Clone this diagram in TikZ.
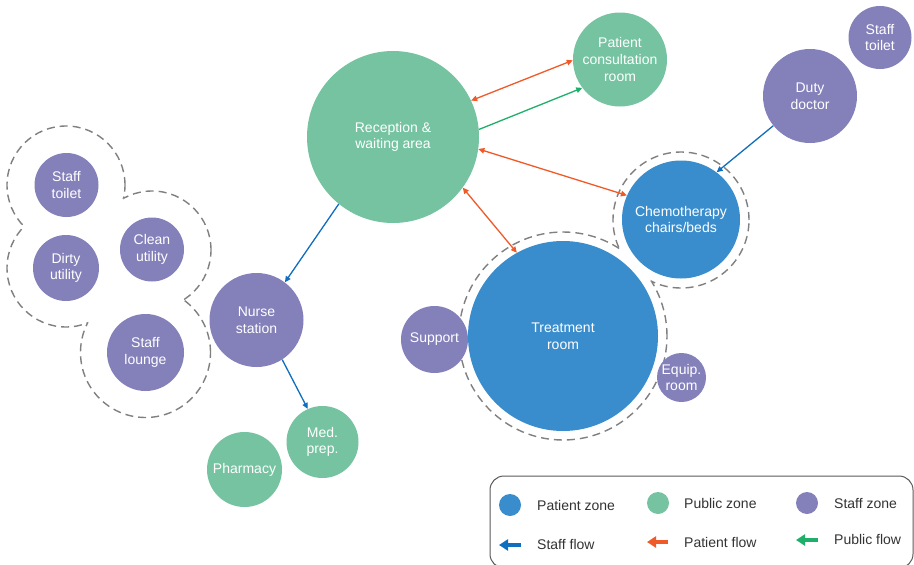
\documentclass[tikz,border=0pt]{standalone}
\usepackage{fontspec}
\setmainfont{Liberation Sans}
\usetikzlibrary{arrows.meta}
\definecolor{patient}{RGB}{58,141,204}
\definecolor{public}{RGB}{117,195,160}
\definecolor{staff}{RGB}{132,128,186}
\definecolor{staffflow}{RGB}{16,110,190}
\definecolor{patientflow}{RGB}{240,90,40}
\definecolor{publicflow}{RGB}{30,175,105}
\definecolor{ringgray}{RGB}{128,128,128}
\definecolor{legtext}{RGB}{51,51,51}
\definecolor{legframe}{RGB}{90,90,90}
\begin{document}
\begin{tikzpicture}[x=1pt,y=-1pt,
  room/.style={circle, inner sep=0pt, text=white, align=center,
    font=\fontsize{14}{16.7}\selectfont, minimum size=#1},
  pz/.style={room=#1, fill=patient},
  puz/.style={room=#1, fill=public},
  sz/.style={room=#1, fill=staff},
  ringline/.style={draw=ringgray, line width=1.4pt, dash pattern=on 8pt off 5pt},
  sflow/.style={draw=staffflow, line width=1.3pt, -{Triangle[length=6pt,width=5.5pt]}},
  pflow/.style={draw=patientflow, line width=1.3pt, {Triangle[length=6pt,width=5.5pt]}-{Triangle[length=6pt,width=5.5pt]}},
  gflow/.style={draw=publicflow, line width=1.3pt, -{Triangle[length=6pt,width=5.5pt]}},
  legarrow/.style={line width=3.5pt, -{Triangle[length=9pt,width=11pt]}},
  legdot/.style={circle, inner sep=0pt, minimum size=22pt},
  legtxt/.style={anchor=west, inner sep=0pt, text=legtext, font=\fontsize{14}{16}\selectfont}
]
\useasboundingbox[fill=white] (0,0) rectangle (914,565);

% ---------- dashed outline around left staff cluster (union of circles)
\begin{scope}[even odd rule]
  \clip (0,0) rectangle (914,565) (66,268) circle[radius=59pt];
  \clip (0,0) rectangle (914,565) (152,250) circle[radius=59pt];
  \clip (0,0) rectangle (914,565) (145.5,352.5) circle[radius=65pt];
  \draw[ringline] (66,185) circle[radius=59pt];
\end{scope}
\begin{scope}[even odd rule]
  \clip (0,0) rectangle (914,565) (66,185) circle[radius=59pt];
  \clip (0,0) rectangle (914,565) (152,250) circle[radius=59pt];
  \clip (0,0) rectangle (914,565) (145.5,352.5) circle[radius=65pt];
  \draw[ringline] (66,268) circle[radius=59pt];
\end{scope}
\begin{scope}[even odd rule]
  \clip (0,0) rectangle (914,565) (66,185) circle[radius=59pt];
  \clip (0,0) rectangle (914,565) (66,268) circle[radius=59pt];
  \clip (0,0) rectangle (914,565) (145.5,352.5) circle[radius=65pt];
  \draw[ringline] (152,250) circle[radius=59pt];
\end{scope}
\begin{scope}[even odd rule]
  \clip (0,0) rectangle (914,565) (66,185) circle[radius=59pt];
  \clip (0,0) rectangle (914,565) (66,268) circle[radius=59pt];
  \clip (0,0) rectangle (914,565) (152,250) circle[radius=59pt];
  \draw[ringline] (145.5,352.5) circle[radius=65pt];
\end{scope}

% ---------- dashed outline around patient zone
\begin{scope}[even odd rule]
  \clip (0,0) rectangle (914,565) (681,220) circle[radius=68pt];
  \draw[ringline] (563,336) circle[radius=104pt];
\end{scope}
\begin{scope}[even odd rule]
  \clip (0,0) rectangle (914,565) (563,336) circle[radius=104pt];
  \draw[ringline] (681,220) circle[radius=68pt];
\end{scope}

% ---------- rooms
\node[puz=172pt] (rec) at (393,137) {Reception \&\\waiting area};
\node[puz=94pt] (cons) at (620,59.5) {Patient\\consultation\\room};
\node[sz=63pt] (stoil2) at (880,37.5) {Staff\\toilet};
\node[sz=94pt] (duty) at (810,96) {Duty\\doctor};
\node[pz=118pt] (chemo) at (681,219.5) {Chemotherapy\\chairs/beds};
\node[pz=190pt] (treat) at (563,336) {Treatment\\room};
\node[sz=67pt] (supp) at (434.5,339.5) {Support};
\node[sz=49pt] (equip) at (681.5,377.5) {Equip.\\room};
\node[sz=94pt] (nurse) at (256.5,320) {Nurse\\station};
\node[puz=72pt] (med) at (322.5,442) {Med.\\prep.};
\node[puz=75pt] (pharm) at (244.5,469.5) {Pharmacy};
\node[sz=64pt] (stoil1) at (66.5,185) {Staff\\toilet};
\node[sz=66pt] (dirty) at (66,268) {Dirty\\utility};
\node[sz=64pt] (clean) at (152,249.5) {Clean\\utility};
\node[sz=77pt] (lounge) at (145.5,352.5) {Staff\\lounge};

% ---------- flows
\draw[pflow] (rec.25) -- (cons.181);
\draw[gflow] (rec.5) -- (cons.217);
\draw[pflow] (rec.-8) -- (chemo.156);
\draw[pflow] (rec.-36) -- (treat.119);
\draw[sflow] (rec.-129) -- (nurse.53);
\draw[sflow] (nurse.-57) -- (med.114);
\draw[sflow] (duty.219) -- (chemo.53);

% ---------- legend
\draw[legframe, line width=1pt, rounded corners=14pt] (490,476) rectangle (913,568);
\node[legdot, fill=patient] (lgp) at (510,505) {};
\node[legtxt] (lgpt) at (537,505) {Patient zone};
\node[legdot, fill=public] (lgu) at (658,503) {};
\node[legtxt] (lgut) at (684,503) {Public zone};
\node[legdot, fill=staff] (lgs) at (807,503) {};
\node[legtxt] (lgst) at (834,503) {Staff zone};
\coordinate (sa1) at (521,545); \coordinate (sa2) at (499,545);
\coordinate (pa1) at (668,542); \coordinate (pa2) at (647,542);
\coordinate (ga1) at (818,540); \coordinate (ga2) at (796,540);
\draw[legarrow, draw=staffflow, fill=staffflow] (sa1) -- (sa2);
\draw[legarrow, draw=patientflow, fill=patientflow] (pa1) -- (pa2);
\draw[legarrow, draw=publicflow, fill=publicflow] (ga1) -- (ga2);
\node[legtxt] (lgsf) at (537,544) {Staff flow};
\node[legtxt] (lgpf) at (684,542) {Patient flow};
\node[legtxt] (lggf) at (834,539) {Public flow};
\end{tikzpicture}
\end{document}
